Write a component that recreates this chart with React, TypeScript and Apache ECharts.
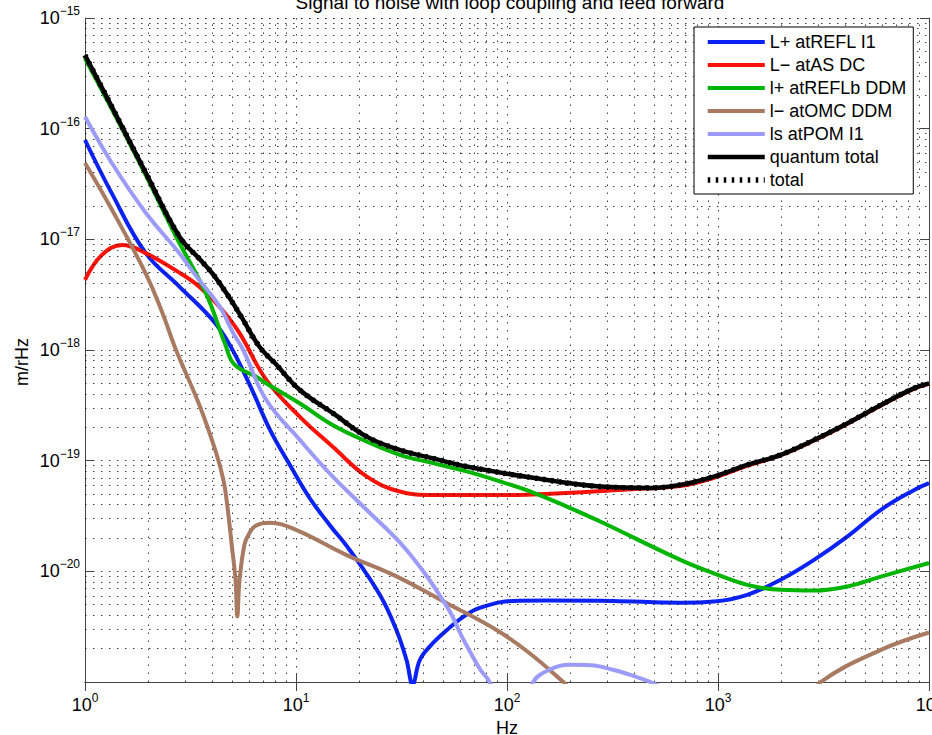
import React, { useEffect, useRef } from 'react';
import * as echarts from 'echarts';

const FONT = '"Liberation Sans", Arial, Helvetica, sans-serif';

const titleText = 'Signal to noise with loop coupling and feed forward';
const xName = 'Hz';
const yName = 'm/rHz';

const xMin = 1;
const xMax = 1e4;
const yMin = 1e-21;
const yMax = 1e-15;

// L+ atREFL I1 (blue)
const blueF = [1, 1.34, 1.94, 2.8, 4.02, 4.87, 6.05, 7.53, 9.37, 11.6, 14.5, 18.0, 25.0, 29.9, 33.4, 35.7, 38.6, 43.1, 51.9, 62.3, 74.8, 106.8, 154, 318, 663, 955, 1376, 1982, 2852, 4111, 5916, 8511, 10000];
const blueV = [7.9e-17, 2.6e-17, 7.5e-18, 3.74e-18, 1.87e-18, 1.1e-18, 4.8e-19, 1.9e-19, 9.1e-20, 4.6e-20, 2.6e-20, 1.55e-20, 6.1e-21, 2.95e-21, 1.58e-21, 9.5e-22, 1.58e-21, 2.1e-21, 2.95e-21, 3.9e-21, 4.7e-21, 5.4e-21, 5.45e-21, 5.4e-21, 5.2e-21, 5.33e-21, 6.14e-21, 8.4e-21, 1.27e-20, 2.07e-20, 3.6e-20, 5.44e-20, 6.26e-20];

// L− atAS DC (red)
const redF = [1, 1.2, 1.5, 1.94, 2.8, 3.48, 4.33, 5.39, 7.22, 10.4, 14.9, 21.6, 31, 44.6, 100, 180, 370, 663, 955, 1376, 1982, 2852, 4111, 5916, 8511, 10000];
const redV = [4.3e-18, 7.2e-18, 8.9e-18, 7.5e-18, 5.0e-18, 3.74e-18, 2.47e-18, 1.43e-18, 5.4e-19, 2.5e-19, 1.34e-19, 7.2e-20, 5.26e-20, 4.9e-20, 4.9e-20, 5.08e-20, 5.5e-20, 5.9e-20, 7.0e-20, 9.0e-20, 1.12e-19, 1.52e-19, 2.16e-19, 3.16e-19, 4.48e-19, 4.95e-19];

// l+ atREFLb DDM (green)
const greenF = [1, 1.34, 1.94, 2.7, 3.74, 4.6, 5.1, 6.47, 7.22, 10.4, 14.9, 21.6, 31, 44.6, 64.4, 92.6, 133, 192, 276.6, 663, 955, 1376, 1982, 2852, 4111, 5916, 10000];
const greenV = [4.3e-16, 1.5e-16, 3.8e-17, 1.06e-17, 3.26e-18, 1.15e-18, 7.4e-19, 5.75e-19, 5.0e-19, 3.3e-19, 2.1e-19, 1.49e-19, 1.13e-19, 9.5e-20, 8.0e-20, 6.5e-20, 5.15e-20, 3.85e-20, 2.82e-20, 1.27e-20, 9.6e-21, 7.55e-21, 6.8e-21, 6.7e-21, 7.3e-21, 8.97e-21, 1.19e-20];

// l− atOMC DDM (brown)
const brownF = [1, 1.34, 1.94, 2.33, 2.7, 3.48, 4.17, 4.52, 4.69, 4.97, 5.17, 5.27, 5.4, 5.7, 6.0, 6.47, 7.49, 10, 17.3, 29.9, 51.9, 89.2, 128, 185, 250, 2500, 3069, 5916, 10000];
const brownV = [4.9e-17, 1.86e-17, 4.9e-18, 2.15e-18, 1.0e-18, 3.2e-19, 1.2e-19, 6.8e-20, 4.4e-20, 1.67e-20, 8.3e-21, 3.9e-21, 8.3e-21, 1.75e-20, 2.2e-20, 2.6e-20, 2.75e-20, 2.37e-20, 1.41e-20, 9.0e-21, 5.15e-21, 2.95e-21, 1.82e-21, 1.0e-21, 6e-22, 6e-22, 1.0e-21, 1.95e-21, 2.8e-21];

// ls atPOM I1 (light purple)
const purpleF = [1, 1.34, 1.94, 2.8, 3.38, 4.33, 5.04, 5.62, 7.22, 10.4, 14.9, 21.6, 33.4, 51.9, 62.3, 74.8, 82.7, 95, 105, 118, 133, 160, 198, 250, 318, 400, 478, 600];
const purpleV = [1.28e-16, 4.9e-17, 1.74e-17, 7.5e-18, 4.6e-18, 2.5e-18, 1.42e-18, 1.0e-18, 3.55e-19, 1.55e-19, 7.2e-20, 3.6e-20, 1.56e-20, 4.8e-21, 2.4e-21, 1.29e-21, 1.0e-21, 5e-22, 2e-22, 5e-22, 1.0e-21, 1.3e-21, 1.43e-21, 1.42e-21, 1.29e-21, 1.13e-21, 1.0e-21, 8e-22];

// quantum total (black) and total (dotted)
const quantumF = [1, 1.34, 1.94, 2.8, 3.5, 4.02, 4.66, 5.5, 6.71, 8.0, 10.4, 14.9, 21.6, 31, 44.6, 64.4, 133, 276.6, 478, 663, 955, 1376, 1982, 2852, 4111, 5916, 8511, 10000];
const quantumV = [4.6e-16, 1.58e-16, 4.0e-17, 1.06e-17, 6.6e-18, 4.9e-18, 3.3e-18, 2.0e-18, 1.07e-18, 7.5e-19, 4.37e-19, 2.7e-19, 1.65e-19, 1.25e-19, 1.05e-19, 8.85e-20, 7.0e-20, 5.83e-20, 5.67e-20, 6.04e-20, 7.18e-20, 9.16e-20, 1.13e-19, 1.54e-19, 2.18e-19, 3.19e-19, 4.52e-19, 5.0e-19];
const totalF = quantumF;
const totalV = quantumV;

const legendNames = ['L+ atREFL I1', 'L− atAS DC', 'l+ atREFLb DDM', 'l− atOMC DDM', 'ls atPOM I1', 'quantum total', 'total'];

const zip = (f: number[], v: number[]) => f.map((x, i) => [x, v[i]]);

const mkLine = (name: string, f: number[], v: number[], color: string, width: number, z: number, type: any = 'solid') => ({
  type: 'line',
  name,
  data: zip(f, v),
  symbol: 'none',
  showSymbol: false,
  smooth: 0.4,
  clip: true,
  z,
  lineStyle: { color, width, type, cap: 'butt', join: 'round' },
  itemStyle: { color },
  emphasis: { disabled: true },
  silent: true,
});

const expLabel = (v: number) => {
  const e = Math.round(Math.log10(v));
  const es = e < 0 ? '\u2212' + String(-e) : String(e);
  return `{b|10}{e|${es}}`;
};

const richLabel = {
  b: { fontSize: 18, lineHeight: 26, fontFamily: FONT, color: '#000' },
  e: { fontSize: 12, lineHeight: 12, verticalAlign: 'top', fontFamily: FONT, color: '#000' },
};

const gridLineStyle = { color: '#111', width: 1, type: [1.5, 6.5], opacity: 0.8 };

export default function App() {
  const ref = useRef<HTMLDivElement>(null);
  useEffect(() => {
    if (!ref.current) return;
    const chart = echarts.init(ref.current, null, { renderer: 'svg' });

    const minorX: number[] = [];
    for (let n = 0; n < 4; n++) for (let k = 2; k <= 9; k++) minorX.push(k * Math.pow(10, n));
    const minorY: number[] = [];
    for (let n = -21; n < -15; n++) for (let k = 2; k <= 9; k++) minorY.push(k * Math.pow(10, n));

    const axisLineStyle = { color: '#444', width: 1 };

    const option: any = {
      animation: false,
      backgroundColor: '#fff',
      textStyle: { fontFamily: FONT },
      grid: { left: 85, right: 3, top: 18, bottom: 53, show: false, containLabel: false, outerBoundsMode: 'none' },
      graphic: [
        {
          type: 'text',
          x: 510,
          y: 2,
          style: { text: titleText, fontSize: 19, fontFamily: FONT, fill: '#000', align: 'center', verticalAlign: 'middle' },
          z: 10,
        },
        {
          type: 'text',
          x: 22,
          y: 362,
          rotation: Math.PI / 2,
          style: { text: yName, fontSize: 18, fontFamily: FONT, fill: '#000', align: 'center', verticalAlign: 'middle' },
          z: 10,
        },
      ],
      legend: {
        orient: 'vertical',
        left: 694,
        top: 27,
        padding: [6, 7, 5, 11],
        itemGap: 5,
        itemWidth: 57,
        itemHeight: 14,
        backgroundColor: '#fff',
        borderColor: '#000',
        borderWidth: 1,
        selectedMode: false,
        itemStyle: { opacity: 0 },
        lineStyle: { width: 'inherit' },
        textStyle: { fontSize: 18, fontFamily: FONT, color: '#000', lineHeight: 18 },
        data: legendNames,
        z: 20,
      },
      xAxis: [
        {
          type: 'log',
          logBase: 10,
          min: xMin,
          max: xMax,
          position: 'bottom',
          name: xName,
          nameLocation: 'middle',
          nameGap: 33,
          nameTextStyle: { fontSize: 18, lineHeight: 16, fontFamily: FONT, color: '#000' },
          axisLine: { show: true, lineStyle: axisLineStyle },
          axisTick: { show: true, inside: true, length: 9, lineStyle: axisLineStyle },
          axisLabel: { show: true, margin: 10, formatter: expLabel, rich: richLabel, showMinLabel: true, showMaxLabel: true, hideOverlap: false },
          splitLine: { show: true, lineStyle: gridLineStyle },
        },
        {
          type: 'log',
          logBase: 10,
          min: xMin,
          max: xMax,
          position: 'top',
          axisLine: { show: true, lineStyle: axisLineStyle },
          axisTick: { show: true, inside: true, length: 9, lineStyle: axisLineStyle },
          axisLabel: { show: false },
          splitLine: { show: false },
        },
      ],
      yAxis: [
        {
          type: 'log',
          logBase: 10,
          min: yMin,
          max: yMax,
          position: 'left',
          axisLine: { show: true, lineStyle: axisLineStyle },
          axisTick: { show: true, inside: true, length: 9, lineStyle: axisLineStyle },
          axisLabel: { show: true, margin: 5, formatter: expLabel, rich: richLabel, showMinLabel: true, showMaxLabel: true, hideOverlap: false },
          splitLine: { show: true, lineStyle: gridLineStyle },
        },
        {
          type: 'log',
          logBase: 10,
          min: yMin,
          max: yMax,
          position: 'right',
          axisLine: { show: true, lineStyle: axisLineStyle },
          axisTick: { show: true, inside: true, length: 9, lineStyle: axisLineStyle },
          axisLabel: { show: false },
          splitLine: { show: false },
        },
      ],
      series: [
        {
          type: 'line',
          name: 'minor-grid',
          data: [[1, 1e-15]],
          symbol: 'none',
          showSymbol: false,
          silent: true,
          z: 1,
          lineStyle: { width: 0 },
          markLine: {
            silent: true,
            precision: -1,
            symbol: ['none', 'none'],
            label: { show: false },
            animation: false,
            lineStyle: gridLineStyle,
            emphasis: { disabled: true },
            data: [...minorX.map((v) => ({ xAxis: v })), ...minorY.map((v) => ({ yAxis: v }))],
          },
        },
        mkLine(legendNames[0], blueF, blueV, '#0a22f5', 4, 3),
        mkLine(legendNames[1], redF, redV, '#fa1208', 4, 4),
        mkLine(legendNames[2], greenF, greenV, '#00b400', 4, 5),
        mkLine(legendNames[3], brownF, brownV, '#a87a62', 4, 6),
        mkLine(legendNames[4], purpleF, purpleV, '#9c9cf8', 4, 7),
        mkLine(legendNames[5], quantumF, quantumV, '#000000', 4.5, 8),
        mkLine(legendNames[6], totalF, totalV, '#000000', 5.5, 9, [2.5, 5.5]),
      ],
    };
    chart.setOption(option);
    return () => chart.dispose();
  }, []);
  return (
    <div
      ref={ref}
      style={{ position: 'fixed', left: 0, top: 0, width: 932, height: 735, background: '#fff' }}
    />
  );
}
